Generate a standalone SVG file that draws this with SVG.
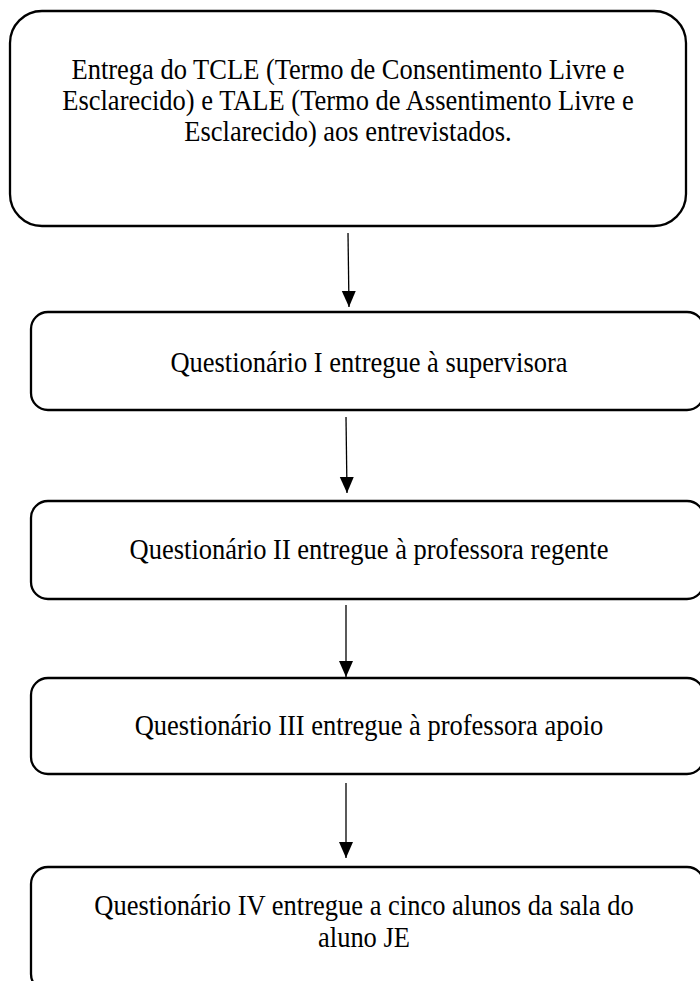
<svg xmlns="http://www.w3.org/2000/svg" width="700" height="981" viewBox="0 0 700 981">
<defs>
<style>
.box{fill:#fff;stroke:#000;stroke-width:2.3}
.t{font-family:"Liberation Serif","Times New Roman",serif;font-size:26.5px;fill:#000;text-anchor:middle}
.arr{stroke:#000;stroke-width:1.3;fill:none}
</style>
<marker id="ah" markerUnits="userSpaceOnUse" markerWidth="16" markerHeight="18" refX="16" refY="7" orient="auto">
<path d="M0,0 L16,7 L0,14 Z" fill="#000"/>
</marker>
</defs>
<rect width="700" height="981" fill="#fff"/>
<g id="node1">
<rect class="box" x="10" y="11" width="676" height="215" rx="32" ry="32"/>
<text class="t" transform="translate(348,79) scale(1,1.11)">Entrega do TCLE (Termo de Consentimento Livre e</text>
<text class="t" transform="translate(348,110) scale(1,1.11)">Esclarecido) e TALE (Termo de Assentimento Livre e</text>
<text class="t" transform="translate(348,141) scale(1,1.11)">Esclarecido) aos entrevistados.</text>
</g>
<g id="node2">
<rect class="box" x="31" y="312" width="673" height="98" rx="17" ry="17"/>
<text class="t" transform="translate(369,372) scale(1,1.11)">Questionário I entregue à supervisora</text>
</g>
<g id="node3">
<rect class="box" x="31" y="501" width="673" height="98" rx="17" ry="17"/>
<text class="t" transform="translate(369,559) scale(1,1.11)">Questionário II entregue à professora regente</text>
</g>
<g id="node4">
<rect class="box" x="31" y="678" width="673" height="96" rx="17" ry="17"/>
<text class="t" transform="translate(369,735) scale(1,1.11)">Questionário III entregue à professora apoio</text>
</g>
<g id="node5">
<rect class="box" x="31" y="867" width="673" height="124" rx="17" ry="17"/>
<text class="t" transform="translate(364,915) scale(1,1.11)">Questionário IV entregue a cinco alunos da sala do</text>
<text class="t" transform="translate(364,947) scale(1,1.11)">aluno JE</text>
</g>
<g id="connectors">
<line class="arr" x1="348" y1="233" x2="349" y2="307" marker-end="url(#ah)"/>
<line class="arr" x1="346" y1="417" x2="347" y2="493" marker-end="url(#ah)"/>
<line class="arr" x1="346" y1="605" x2="346" y2="677" marker-end="url(#ah)"/>
<line class="arr" x1="346" y1="783" x2="346" y2="858" marker-end="url(#ah)"/>
</g>
</svg>
